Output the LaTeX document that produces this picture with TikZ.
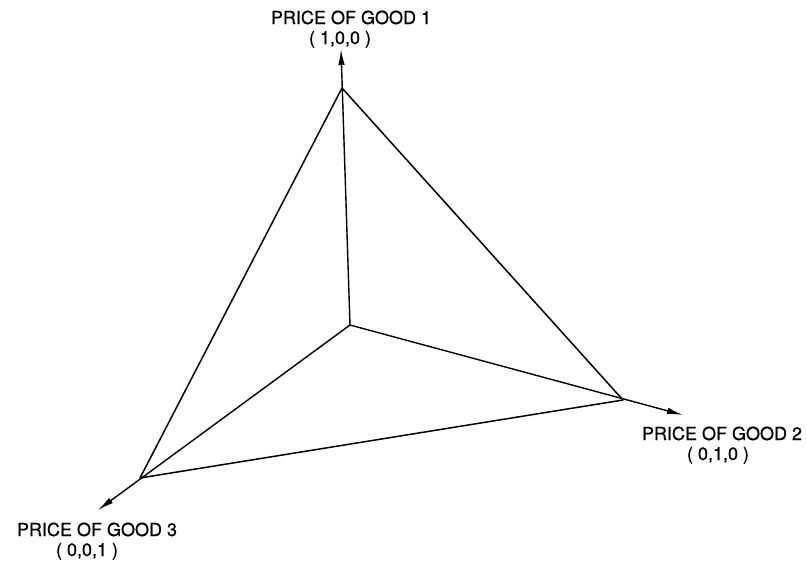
\documentclass[tikz,border=0pt]{standalone}
\usepackage{fontspec}
\setmainfont{TeX Gyre Heros}
\usetikzlibrary{arrows.meta}
\begin{document}
\begin{tikzpicture}[x=1pt,y=-1pt,
  axis/.style={line width=1.4pt,-{Latex[length=16pt,width=6.5pt]}},
  edge/.style={line width=1.5pt},
  lbl/.style={font=\fontsize{18}{20}\selectfont\addfontfeatures{FakeBold=0.6},inner sep=0pt,anchor=base}]
\useasboundingbox (0,0) rectangle (807,566);
\coordinate (O) at (350,325);
\coordinate (A) at (342,88);
\coordinate (B) at (623,400);
\coordinate (C) at (140,478);
\coordinate (At) at (341,49);
\coordinate (Bt) at (683,415);
\coordinate (Ct) at (98,510);
\draw[axis] (O) -- (At);
\draw[axis] (O) -- (Bt);
\draw[axis] (O) -- (Ct);
\draw[edge,line join=round] (A) -- (B) -- (C) -- cycle;
\node[lbl] (l1a) at (351,24) {PRICE OF GOOD 1};
\node[lbl] (l1b) at (340,44) {( 1,0,0 )};
\node[lbl] (l2a) at (722,440) {PRICE OF GOOD 2};
\node[lbl] (l2b) at (718,460) {( 0,1,0 )};
\node[lbl] (l3a) at (97,536) {PRICE OF GOOD 3};
\node[lbl] (l3b) at (87,556) {( 0,0,1 )};
\end{tikzpicture}
\end{document}
